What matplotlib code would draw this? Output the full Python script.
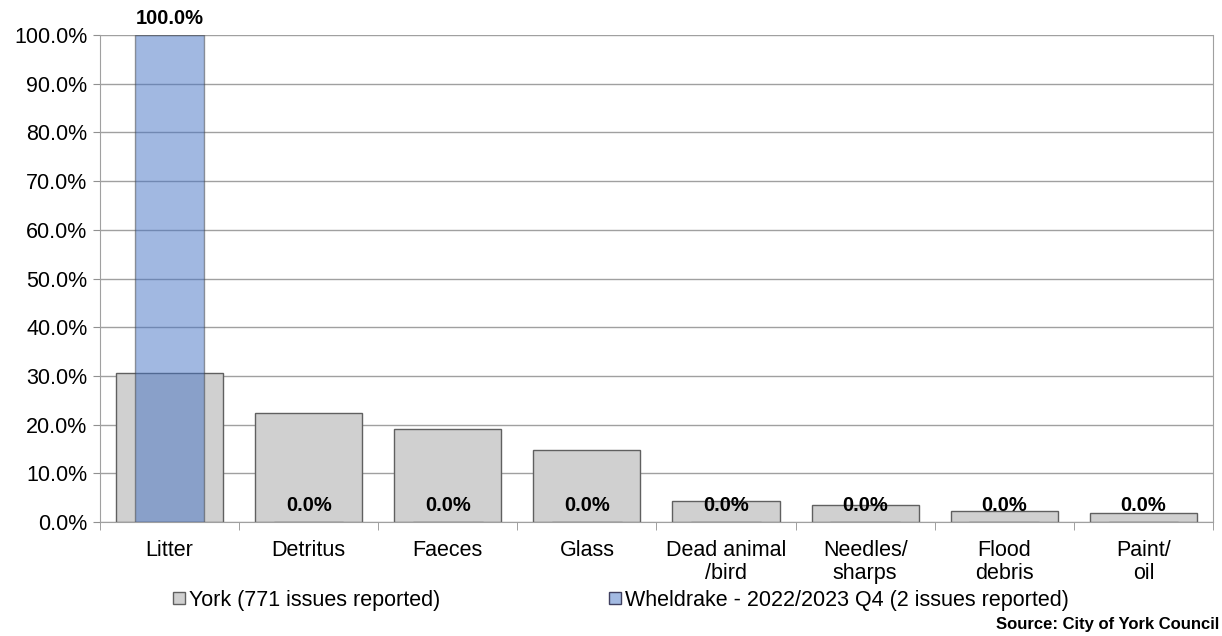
import numpy as np
import matplotlib.pyplot as plt
from matplotlib.lines import Line2D

# Данные
categories = ['Litter', 'Detritus', 'Faeces', 'Glass', 'Dead animal\n/bird',
              'Needles/\nsharps', 'Flood\ndebris', 'Paint/\noil']
york = [30.7, 22.4, 19.1, 14.8, 4.3, 3.5, 2.3, 1.8]
wheldrake = [100.0, 0.0, 0.0, 0.0, 0.0, 0.0, 0.0, 0.0]
york_label = 'York (771 issues reported)'
wheldrake_label = 'Wheldrake - 2022/2023 Q4 (2 issues reported)'

plt.rcParams['font.family'] = ['Liberation Sans', 'DejaVu Sans']
fs = 15.5

fig = plt.figure(figsize=(12.22, 6.36), dpi=100)
ax = fig.add_axes([0.0818, 0.1792, 0.9108, 0.7658])

x = np.arange(len(categories))
ax.bar(x, york, width=0.77, color='#D0D0D0', edgecolor='#606060', linewidth=1, zorder=2)
ax.bar(x, wheldrake, width=0.5, color='#4472C4', alpha=0.5,
       edgecolor='#404040', linewidth=1, zorder=3)

for xi, v in zip(x, wheldrake):
    ax.text(xi, v + 1.5, f'{v:.1f}%', ha='center', va='bottom',
            fontsize=14.5, fontweight='bold', zorder=4)

ax.set_xlim(-0.5, len(categories) - 0.5)
ax.set_ylim(0, 100)
ax.set_yticks(np.arange(0, 101, 10))
ax.set_yticklabels([f'{t:.1f}%' for t in np.arange(0, 101, 10)], fontsize=fs)
ax.set_xticks(x)
ax.set_xticklabels(categories, fontsize=fs, linespacing=1.15)
ax.set_xticks(np.arange(-0.5, len(categories), 1), minor=True)
ax.tick_params(axis='x', which='major', length=0, pad=13)
ax.tick_params(axis='x', which='minor', length=6, color='#909090')
ax.tick_params(axis='y', length=5, color='#909090', pad=4)
ax.grid(axis='y', color='#A0A0A0', linewidth=1, zorder=0)
ax.set_axisbelow(True)
for s in ax.spines.values():
    s.set_color('#A0A0A0')
ax.spines['top'].set_visible(False)

handles = [
    Line2D([], [], marker='s', linestyle='none', markersize=8,
           markerfacecolor='#D0D0D0', markeredgecolor='#606060'),
    Line2D([], [], marker='s', linestyle='none', markersize=8,
           markerfacecolor='#A3BAE2', markeredgecolor='#404060'),
]
fig.legend(handles, [york_label, wheldrake_label], loc='center left',
           bbox_to_anchor=(0.142, 0.056), ncol=2, frameon=False, fontsize=fs,
           handlelength=0.5, handletextpad=0.2, columnspacing=7.9,
           borderaxespad=0, borderpad=0)

fig.text(0.998, 0.006, 'Source: City of York Council', ha='right', va='bottom',
         fontsize=12, fontweight='bold')

plt.savefig('out.png', dpi=100)
